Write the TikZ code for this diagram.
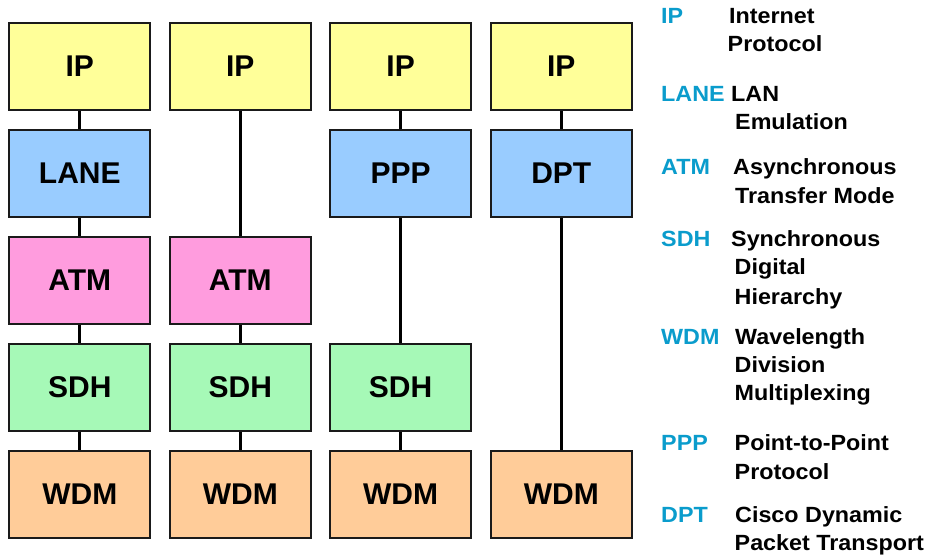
\documentclass[tikz,border=0pt]{standalone}
\usepackage{fontspec}
\setmainfont{Liberation Sans}
\newfontfamily\legfont[FakeStretch=1.06]{Liberation Sans}
\definecolor{ipc}{HTML}{FFFF99}
\definecolor{midc}{HTML}{99CCFF}
\definecolor{atmc}{HTML}{FF9CDE}
\definecolor{sdhc}{HTML}{A6F9B7}
\definecolor{wdmc}{HTML}{FFCC99}
\definecolor{abbrc}{HTML}{0A9CCC}
\definecolor{edgec}{HTML}{1A1A1A}
\begin{document}
\begin{tikzpicture}[x=1pt,y=-1pt,
  layer/.style={rectangle,draw=edgec,line width=2pt,minimum width=141pt,minimum height=87.5pt,inner sep=0pt,font=\fontsize{30}{30}\selectfont\bfseries},
  link/.style={line width=2.8pt,black},
  abbr/.style={anchor=base west,inner sep=0pt,text=abbrc,font=\legfont\fontsize{22}{26}\selectfont\bfseries},
  desc/.style={anchor=base west,inner sep=0pt,text=black,font=\legfont\fontsize{22}{26}\selectfont\bfseries}]
\useasboundingbox (0,0) rectangle (931,556);
% column 1
\node[layer,fill=ipc]  (ip1)   at (79.8,66.5)  {IP};
\node[layer,fill=midc] (lane1) at (79.8,173.3) {LANE};
\node[layer,fill=atmc] (atm1)  at (79.8,280.5) {ATM};
\node[layer,fill=sdhc] (sdh1)  at (79.8,387.4) {SDH};
\node[layer,fill=wdmc] (wdm1)  at (79.8,494.4) {WDM};
% column 2
\node[layer,fill=ipc]  (ip2)   at (240.3,66.5)  {IP};
\node[layer,fill=atmc] (atm2)  at (240.3,280.5) {ATM};
\node[layer,fill=sdhc] (sdh2)  at (240.3,387.4) {SDH};
\node[layer,fill=wdmc] (wdm2)  at (240.3,494.4) {WDM};
% column 3
\node[layer,fill=ipc]  (ip3)   at (400.6,66.5)  {IP};
\node[layer,fill=midc] (ppp3)  at (400.6,173.3) {PPP};
\node[layer,fill=sdhc] (sdh3)  at (400.6,387.4) {SDH};
\node[layer,fill=wdmc] (wdm3)  at (400.6,494.4) {WDM};
% column 4
\node[layer,fill=ipc]  (ip4)   at (561.3,66.5)  {IP};
\node[layer,fill=midc] (dpt4)  at (561.3,173.3) {DPT};
\node[layer,fill=wdmc] (wdm4)  at (561.3,494.4) {WDM};
% connectors
\draw[link] (ip1) -- (lane1);
\draw[link] (lane1) -- (atm1);
\draw[link] (atm1) -- (sdh1);
\draw[link] (sdh1) -- (wdm1);
\draw[link] (ip2) -- (atm2);
\draw[link] (atm2) -- (sdh2);
\draw[link] (sdh2) -- (wdm2);
\draw[link] (ip3) -- (ppp3);
\draw[link] (ppp3) -- (sdh3);
\draw[link] (sdh3) -- (wdm3);
\draw[link] (ip4) -- (dpt4);
\draw[link] (dpt4) -- (wdm4);
% legend
\node[abbr] (aip)   at (661,24)    {IP};
\node[abbr] (alane) at (661,101.7) {LANE};
\node[abbr] (aatm)  at (661,175)   {ATM};
\node[abbr] (asdh)  at (661,246.7) {SDH};
\node[abbr] (awdm)  at (661,344)   {WDM};
\node[abbr] (appp)  at (661,450.7) {PPP};
\node[abbr] (adpt)  at (661,522.3) {DPT};
\node[desc] (d1a) at (729,24)    {Internet};
\node[desc] (d1b) at (727.5,51.7)  {Protocol};
\node[desc] (d2a) at (731,101.7) {LAN};
\node[desc] (d2b) at (735,129.3) {Emulation};
\node[desc] (d3a) at (733,175)   {Asynchronous};
\node[desc] (d3b) at (735,203.3) {Transfer Mode};
\node[desc] (d4a) at (731,246.7) {Synchronous};
\node[desc] (d4b) at (734.5,274)   {Digital};
\node[desc] (d4c) at (734.5,304)   {Hierarchy};
\node[desc] (d5a) at (735,344)   {Wavelength};
\node[desc] (d5b) at (734.5,372.3) {Division};
\node[desc] (d5c) at (734.5,400.7) {Multiplexing};
\node[desc] (d6a) at (734.5,450.7) {Point-to-Point};
\node[desc] (d6b) at (734.5,479)   {Protocol};
\node[desc] (d7a) at (735,522.3) {Cisco Dynamic};
\node[desc] (d7b) at (734.5,550.7) {Packet Transport};
\end{tikzpicture}
\end{document}
